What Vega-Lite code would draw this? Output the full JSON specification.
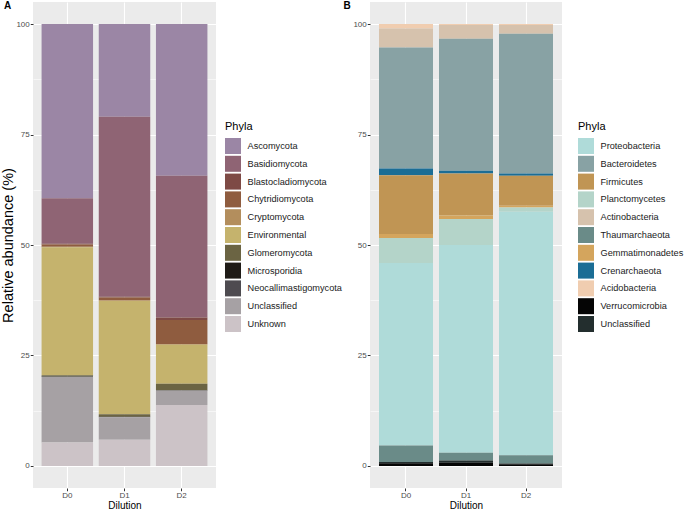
{
  "$schema": "https://vega.github.io/schema/vega-lite/v6.json",
  "padding": {"left": 0, "top": 1, "right": 0, "bottom": 0},
  "background": "white",
  "spacing": 1,
  "config": {
    "font": "Liberation Sans",
    "view": {"fill": "#ebebeb", "stroke": null},
    "axis": {
      "gridColor": "white",
      "domain": false,
      "tickColor": "#333333",
      "tickSize": 2.75,
      "labelColor": "#4d4d4d",
      "labelFontSize": 8,
      "labelPadding": 1,
      "titleColor": "black",
      "titleFontWeight": "normal"
    },
    "legend": {
      "symbolType": "square",
      "symbolSize": 256,
      "symbolStrokeWidth": 0,
      "symbolOpacity": 1,
      "labelFontSize": 9.2,
      "labelColor": "#1a1a1a",
      "labelOffset": 6.5,
      "rowPadding": 1.8,
      "titleFontSize": 11,
      "titleFontWeight": "normal",
      "titleColor": "black",
      "titlePadding": 6,
      "padding": 0
    }
  },
  "datasets": {
    "fungi": [
      {"Dilution": "D0", "Phyla": "Ascomycota", "Abundance": 39.4},
      {"Dilution": "D0", "Phyla": "Basidiomycota", "Abundance": 10.3},
      {"Dilution": "D0", "Phyla": "Blastocladiomycota", "Abundance": 0.2},
      {"Dilution": "D0", "Phyla": "Chytridiomycota", "Abundance": 0.5},
      {"Dilution": "D0", "Phyla": "Cryptomycota", "Abundance": 0.1},
      {"Dilution": "D0", "Phyla": "Environmental", "Abundance": 29.0},
      {"Dilution": "D0", "Phyla": "Glomeromycota", "Abundance": 0.25},
      {"Dilution": "D0", "Phyla": "Microsporidia", "Abundance": 0.05},
      {"Dilution": "D0", "Phyla": "Neocallimastigomycota", "Abundance": 0.05},
      {"Dilution": "D0", "Phyla": "Unclassified", "Abundance": 14.85},
      {"Dilution": "D0", "Phyla": "Unknown", "Abundance": 5.3},
      {"Dilution": "D1", "Phyla": "Ascomycota", "Abundance": 21.0},
      {"Dilution": "D1", "Phyla": "Basidiomycota", "Abundance": 40.7},
      {"Dilution": "D1", "Phyla": "Blastocladiomycota", "Abundance": 0.2},
      {"Dilution": "D1", "Phyla": "Chytridiomycota", "Abundance": 0.6},
      {"Dilution": "D1", "Phyla": "Cryptomycota", "Abundance": 0.2},
      {"Dilution": "D1", "Phyla": "Environmental", "Abundance": 25.6},
      {"Dilution": "D1", "Phyla": "Glomeromycota", "Abundance": 0.6},
      {"Dilution": "D1", "Phyla": "Microsporidia", "Abundance": 0.05},
      {"Dilution": "D1", "Phyla": "Neocallimastigomycota", "Abundance": 0.05},
      {"Dilution": "D1", "Phyla": "Unclassified", "Abundance": 5.1},
      {"Dilution": "D1", "Phyla": "Unknown", "Abundance": 5.9},
      {"Dilution": "D2", "Phyla": "Ascomycota", "Abundance": 34.3},
      {"Dilution": "D2", "Phyla": "Basidiomycota", "Abundance": 32.1},
      {"Dilution": "D2", "Phyla": "Blastocladiomycota", "Abundance": 0.6},
      {"Dilution": "D2", "Phyla": "Chytridiomycota", "Abundance": 5.4},
      {"Dilution": "D2", "Phyla": "Cryptomycota", "Abundance": 0.2},
      {"Dilution": "D2", "Phyla": "Environmental", "Abundance": 8.8},
      {"Dilution": "D2", "Phyla": "Glomeromycota", "Abundance": 1.5},
      {"Dilution": "D2", "Phyla": "Microsporidia", "Abundance": 0.05},
      {"Dilution": "D2", "Phyla": "Neocallimastigomycota", "Abundance": 0.05},
      {"Dilution": "D2", "Phyla": "Unclassified", "Abundance": 3.2},
      {"Dilution": "D2", "Phyla": "Unknown", "Abundance": 13.8}
    ],
    "bacteria": [
      {"Dilution": "D0", "Phyla": "Acidobacteria", "Abundance": 1.0},
      {"Dilution": "D0", "Phyla": "Actinobacteria", "Abundance": 4.3},
      {"Dilution": "D0", "Phyla": "Bacteroidetes", "Abundance": 27.4},
      {"Dilution": "D0", "Phyla": "Crenarchaeota", "Abundance": 1.5},
      {"Dilution": "D0", "Phyla": "Firmicutes", "Abundance": 13.3},
      {"Dilution": "D0", "Phyla": "Gemmatimonadetes", "Abundance": 0.9},
      {"Dilution": "D0", "Phyla": "Planctomycetes", "Abundance": 5.7},
      {"Dilution": "D0", "Phyla": "Proteobacteria", "Abundance": 41.3},
      {"Dilution": "D0", "Phyla": "Thaumarchaeota", "Abundance": 3.7},
      {"Dilution": "D0", "Phyla": "Unclassified", "Abundance": 0.3},
      {"Dilution": "D0", "Phyla": "Verrucomicrobia", "Abundance": 0.6},
      {"Dilution": "D1", "Phyla": "Acidobacteria", "Abundance": 0.2},
      {"Dilution": "D1", "Phyla": "Actinobacteria", "Abundance": 3.1},
      {"Dilution": "D1", "Phyla": "Bacteroidetes", "Abundance": 29.9},
      {"Dilution": "D1", "Phyla": "Crenarchaeota", "Abundance": 0.6},
      {"Dilution": "D1", "Phyla": "Firmicutes", "Abundance": 9.5},
      {"Dilution": "D1", "Phyla": "Gemmatimonadetes", "Abundance": 0.8},
      {"Dilution": "D1", "Phyla": "Planctomycetes", "Abundance": 5.9},
      {"Dilution": "D1", "Phyla": "Proteobacteria", "Abundance": 47.0},
      {"Dilution": "D1", "Phyla": "Thaumarchaeota", "Abundance": 1.8},
      {"Dilution": "D1", "Phyla": "Unclassified", "Abundance": 0.5},
      {"Dilution": "D1", "Phyla": "Verrucomicrobia", "Abundance": 0.7},
      {"Dilution": "D2", "Phyla": "Acidobacteria", "Abundance": 0.2},
      {"Dilution": "D2", "Phyla": "Actinobacteria", "Abundance": 2.0},
      {"Dilution": "D2", "Phyla": "Bacteroidetes", "Abundance": 31.6},
      {"Dilution": "D2", "Phyla": "Crenarchaeota", "Abundance": 0.5},
      {"Dilution": "D2", "Phyla": "Firmicutes", "Abundance": 6.8},
      {"Dilution": "D2", "Phyla": "Gemmatimonadetes", "Abundance": 0.4},
      {"Dilution": "D2", "Phyla": "Planctomycetes", "Abundance": 1.0},
      {"Dilution": "D2", "Phyla": "Proteobacteria", "Abundance": 55.1},
      {"Dilution": "D2", "Phyla": "Thaumarchaeota", "Abundance": 1.85},
      {"Dilution": "D2", "Phyla": "Unclassified", "Abundance": 0.15},
      {"Dilution": "D2", "Phyla": "Verrucomicrobia", "Abundance": 0.4}
    ]
  },
  "hconcat": [
    {
      "width": 183,
      "height": 486,
      "title": {"text": "A", "anchor": "start", "frame": "bounds", "fontSize": 10, "fontWeight": "bold", "baseline": "top", "offset": -9, "dx": 3, "color": "black"},
      "data": {"name": "fungi"},
      "mark": {"type": "bar"},
      "encoding": {
        "x": {
          "field": "Dilution", "type": "nominal",
          "scale": {"paddingInner": 0.1, "paddingOuter": 0.15},
          "axis": {"title": "Dilution", "labelAngle": 0, "grid": true, "gridWidth": 1.1, "bandPosition": 0.5, "titleFontSize": 10, "titlePadding": 1, "labelColor": "#4d4d4d"}
        },
        "y": {
          "field": "Abundance", "type": "quantitative", "stack": "zero",
          "scale": {"domain": [-5, 105], "nice": false, "zero": false},
          "axis": {
            "title": "Relative abundance (%)",
            "titleFontSize": 14.5,
            "titlePadding": 0,
            "values": [0, 12.5, 25, 37.5, 50, 62.5, 75, 87.5, 100],
            "labelExpr": "datum.value % 25 === 0 ? datum.label : ''",
            "tickOpacity": {"condition": {"test": "datum.value % 25 === 0", "value": 1}, "value": 0},
            "gridWidth": {"condition": {"test": "datum.value % 25 === 0", "value": 1.1}, "value": 0.55}
          }
        },
        "color": {
          "field": "Phyla", "type": "nominal",
          "scale": {
            "domain": ["Ascomycota", "Basidiomycota", "Blastocladiomycota", "Chytridiomycota", "Cryptomycota", "Environmental", "Glomeromycota", "Microsporidia", "Neocallimastigomycota", "Unclassified", "Unknown"],
            "range": ["#9b86a5", "#8f6474", "#7e4a45", "#8f5c3f", "#b38e5d", "#c5b36d", "#6b6443", "#1f1b17", "#4e4b50", "#a6a1a4", "#ccc3c7"]
          },
          "legend": {"title": "Phyla", "orient": "none", "legendX": 192, "legendY": 119}
        },
        "order": {"field": "Phyla", "sort": "descending"}
      }
    },
    {
      "width": 192,
      "height": 486,
      "title": {"text": "B", "anchor": "start", "frame": "bounds", "fontSize": 10, "fontWeight": "bold", "baseline": "top", "offset": -9, "dx": -9.5, "color": "black"},
      "data": {"name": "bacteria"},
      "mark": {"type": "bar"},
      "encoding": {
        "x": {
          "field": "Dilution", "type": "nominal",
          "scale": {"paddingInner": 0.1, "paddingOuter": 0.15},
          "axis": {"title": "Dilution", "labelAngle": 0, "grid": true, "gridWidth": 1.1, "bandPosition": 0.5, "titleFontSize": 10, "titlePadding": 1, "labelColor": "#4d4d4d"}
        },
        "y": {
          "field": "Abundance", "type": "quantitative", "stack": "zero",
          "scale": {"domain": [-5, 105], "nice": false, "zero": false},
          "axis": {
            "title": null,
            "values": [0, 12.5, 25, 37.5, 50, 62.5, 75, 87.5, 100],
            "labelExpr": "datum.value % 25 === 0 ? datum.label : ''",
            "tickOpacity": {"condition": {"test": "datum.value % 25 === 0", "value": 1}, "value": 0},
            "gridWidth": {"condition": {"test": "datum.value % 25 === 0", "value": 1.1}, "value": 0.55}
          }
        },
        "color": {
          "field": "Phyla", "type": "nominal",
          "scale": {
            "domain": ["Proteobacteria", "Bacteroidetes", "Firmicutes", "Planctomycetes", "Actinobacteria", "Thaumarchaeota", "Gemmatimonadetes", "Crenarchaeota", "Acidobacteria", "Verrucomicrobia", "Unclassified"],
            "range": ["#afdbd9", "#88a2a4", "#c09554", "#b4d4c9", "#d6c2ad", "#6a8b88", "#d4a55d", "#1b6d95", "#f0cdb0", "#050505", "#232e2e"]
          },
          "legend": {"title": "Phyla", "orient": "none", "legendX": 208, "legendY": 119}
        },
        "order": {"field": "Phyla", "sort": "descending"}
      }
    }
  ],
  "resolve": {"scale": {"color": "independent", "x": "independent", "y": "independent"}}
}
